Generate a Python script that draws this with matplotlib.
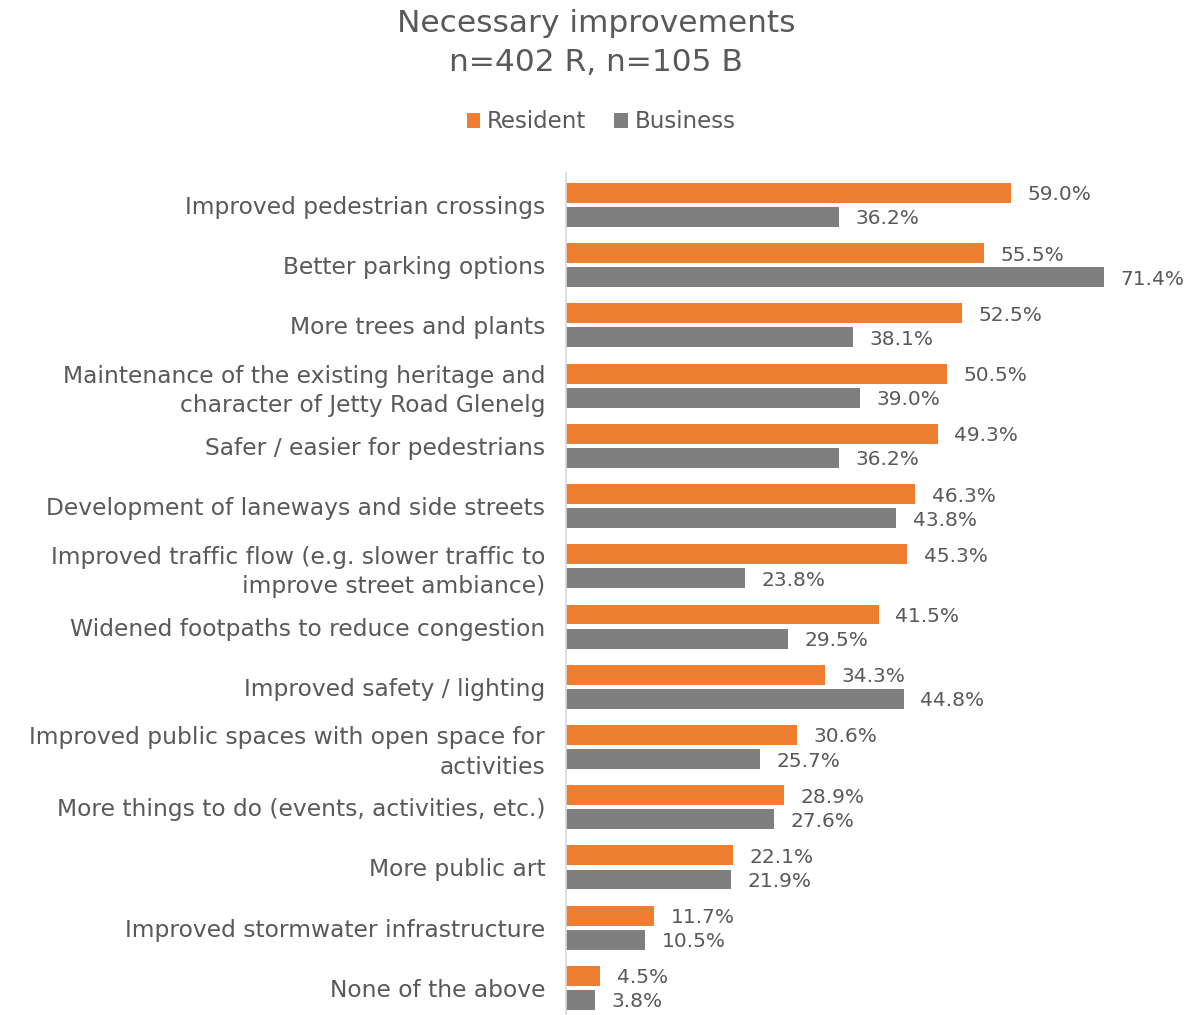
import numpy as np
import matplotlib.pyplot as plt

categories = [
    "Improved pedestrian crossings",
    "Better parking options",
    "More trees and plants",
    "Maintenance of the existing heritage and\ncharacter of Jetty Road Glenelg",
    "Safer / easier for pedestrians",
    "Development of laneways and side streets",
    "Improved traffic flow (e.g. slower traffic to\nimprove street ambiance)",
    "Widened footpaths to reduce congestion",
    "Improved safety / lighting",
    "Improved public spaces with open space for\nactivities",
    "More things to do (events, activities, etc.)",
    "More public art",
    "Improved stormwater infrastructure",
    "None of the above",
]
resident = [59.0, 55.5, 52.5, 50.5, 49.3, 46.3, 45.3, 41.5, 34.3, 30.6, 28.9, 22.1, 11.7, 4.5]
business = [36.2, 71.4, 38.1, 39.0, 36.2, 43.8, 23.8, 29.5, 44.8, 25.7, 27.6, 21.9, 10.5, 3.8]

orange = "#ED7D31"
grey = "#7F7F7F"
txt = "#595959"

plt.rcParams['font.family'] = ['DejaVu Sans']

fig = plt.figure(figsize=(11.92, 10.15), dpi=100)
ax = fig.add_axes([566 / 1192, 0.0, (1169 - 566) / 1192, 1 - 173 / 1015])

y = np.arange(len(categories))
h = 0.33
ax.barh(y - 0.2, resident, height=h, color=orange, label="Resident")
ax.barh(y + 0.2, business, height=h, color=grey, label="Business")

for yi, v in zip(y, resident):
    ax.text(v + 2.2, yi - 0.2, f"{v:.1f}%", va="center_baseline", ha="left",
            fontsize=14.5, color=txt)
for yi, v in zip(y, business):
    ax.text(v + 2.2, yi + 0.2, f"{v:.1f}%", va="center_baseline", ha="left",
            fontsize=14.5, color=txt)

ax.set_xlim(0, 80)
ax.set_ylim(13.45, -0.53)
ax.set_yticks(y)
ax.set_yticklabels(categories, fontsize=16.8, color=txt, linespacing=1.35)
ax.tick_params(axis="y", length=0, pad=15)
ax.set_xticks([])
for s in ["top", "right", "bottom"]:
    ax.spines[s].set_visible(False)
ax.spines["left"].set_color("#D9D9D9")
ax.spines["left"].set_linewidth(1.2)

fig.text(0.5, 1 - 23 / 1015, "Necessary improvements", ha="center", va="center", fontsize=22.5, color=txt)
fig.text(0.5, 1 - 62 / 1015, "n=402 R, n=105 B", ha="center", va="center", fontsize=22.5, color=txt)

fig.legend(loc="center", bbox_to_anchor=(601 / 1192, 1 - 122 / 1015), ncol=2, frameon=False,
           fontsize=16.5, labelcolor=txt, handlelength=0.6, handleheight=0.6,
           handletextpad=0.3, columnspacing=1.2)

fig.savefig("out.png", dpi=100)
